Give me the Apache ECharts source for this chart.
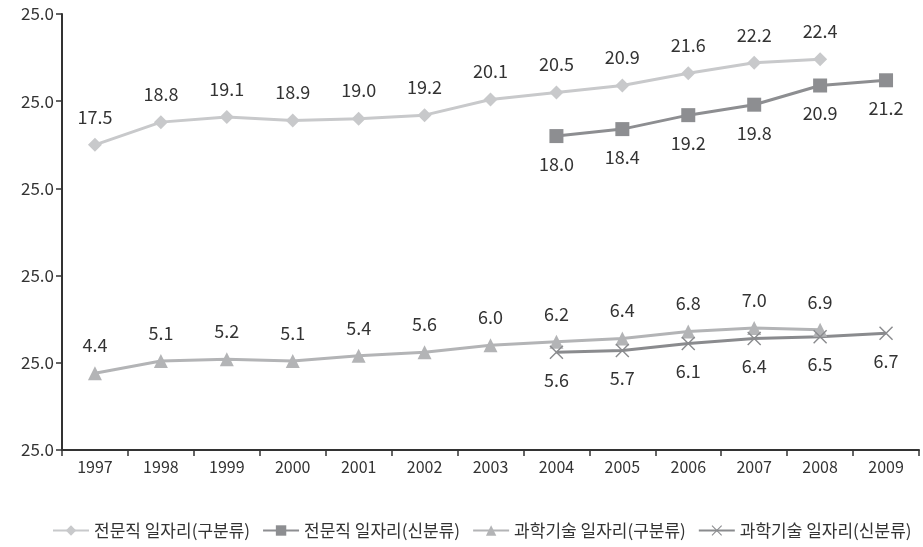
<!DOCTYPE html>
<html>
<head>
<meta charset="utf-8">
<script src="https://cdn.jsdelivr.net/npm/echarts@6/dist/echarts.min.js"></script>
<style>
html,body{margin:0;padding:0;background:#fff;}
#chart{width:923px;height:547px;}
</style>
</head>
<body>
<div id="chart"></div>
<script>
// Years on the category axis
const years = ['1997','1998','1999','2000','2001','2002','2003','2004','2005','2006','2007','2008','2009'];

// Professional jobs, old classification (1997-2008)
const proOld = [17.5, 18.8, 19.1, 18.9, 19.0, 19.2, 20.1, 20.5, 20.9, 21.6, 22.2, 22.4, null];
// Professional jobs, new classification (2004-2009)
const proNew = [null, null, null, null, null, null, null, 18.0, 18.4, 19.2, 19.8, 20.9, 21.2];
// Science & technology jobs, old classification (1997-2008)
const sciOld = [4.4, 5.1, 5.2, 5.1, 5.4, 5.6, 6.0, 6.2, 6.4, 6.8, 7.0, 6.9, null];
// Science & technology jobs, new classification (2004-2009)
const sciNew = [null, null, null, null, null, null, null, 5.6, 5.7, 6.1, 6.4, 6.5, 6.7];

// Value axis tick labels, bottom to top
const yTickLabels = ['25.0', '25.0', '25.0', '25.0', '25.0', '25.0'];

const seriesNames = ['전문직 일자리(구분류)', '전문직 일자리(신분류)', '과학기술 일자리(구분류)', '과학기술 일자리(신분류)'];

const FONT = '"Noto Sans CJK KR", "Noto Sans", sans-serif';
const crossPath = 'path://M0,1L1,0L7,6L13,0L14,1L8,7L14,13L13,14L7,8L1,14L0,13L6,7Z';

function makeSeries(name, data, color, symbol, size, labelPos) {
  return {
    name: name,
    type: 'line',
    data: data,
    symbol: symbol,
    symbolSize: size,
    showAllSymbol: true,
    connectNulls: false,
    lineStyle: { color: color, width: 3 },
    itemStyle: { color: color },
    label: {
      show: true,
      position: labelPos,
      distance: 12,
      color: '#333',
      fontSize: 18,
      fontFamily: FONT,
      formatter: p => p.value.toFixed(1)
    },
    emphasis: { disabled: true },
    animation: false
  };
}

const chart = echarts.init(document.getElementById('chart'));
chart.setOption({
  backgroundColor: '#fff',
  animation: false,
  grid: { left: 62, right: 4, top: 14, bottom: 97, containLabel: false },
  xAxis: {
    type: 'category',
    data: years,
    boundaryGap: true,
    axisLine: { lineStyle: { color: '#333', width: 2 } },
    axisTick: { show: true, length: 6, lineStyle: { color: '#333', width: 1.5 } },
    axisLabel: { color: '#333', fontSize: 16, fontFamily: FONT, margin: 9 }
  },
  yAxis: {
    type: 'value',
    min: 0,
    max: 25,
    interval: 5,
    splitLine: { show: false },
    axisLine: { show: true, lineStyle: { color: '#333', width: 2 } },
    axisTick: { show: true, length: 6, lineStyle: { color: '#333', width: 1.5 } },
    axisLabel: {
      color: '#333', fontSize: 17, fontFamily: FONT, margin: 8,
      formatter: (v) => yTickLabels[Math.round(v / 5)]
    }
  },
  legend: {
    bottom: 8,
    left: 52,
    width: 900,
    padding: 0,
    itemWidth: 36,
    itemHeight: 13,
    itemGap: 12,
    textStyle: { color: '#333', fontSize: 17, fontFamily: FONT },
    data: seriesNames
  },
  series: [
    makeSeries(seriesNames[0], proOld, '#c8c9cb', 'diamond', 14, 'top'),
    makeSeries(seriesNames[1], proNew, '#8d8e91', 'rect', 14, 'bottom'),
    makeSeries(seriesNames[2], sciOld, '#b3b4b6', 'triangle', 14, 'top'),
    makeSeries(seriesNames[3], sciNew, '#8a8b8e', crossPath, 14, 'bottom')
  ]
});
</script>
</body>
</html>
